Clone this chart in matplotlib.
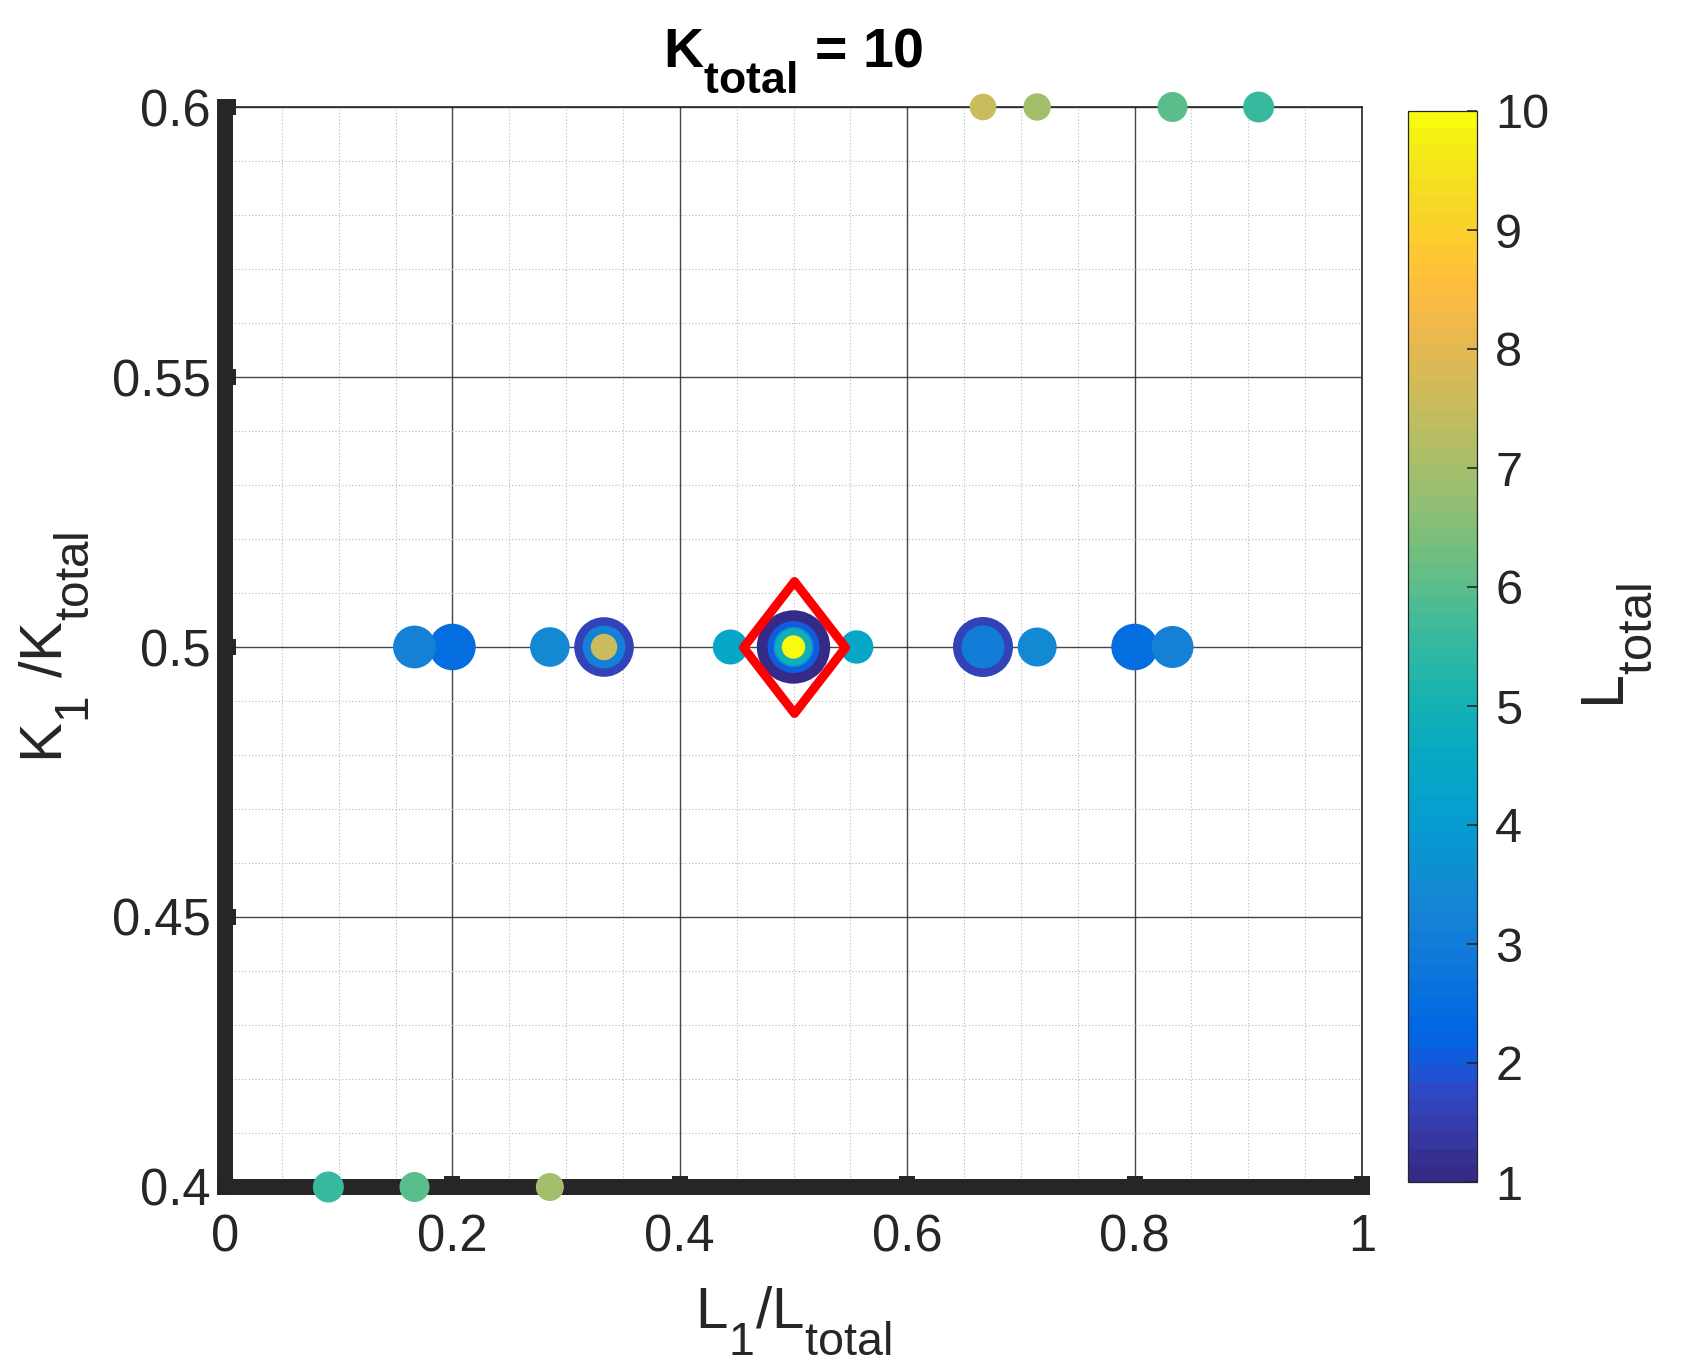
import numpy as np
import matplotlib
matplotlib.use('Agg')
import matplotlib.pyplot as plt
from matplotlib.colors import ListedColormap, Normalize
from matplotlib.markers import MarkerStyle
from matplotlib.path import Path

# deeper / larger subscripts, like MATLAB's TeX interpreter
try:
    import matplotlib._mathtext as _mt
    _mt.FontConstantsBase.sub1 = 0.9
    _mt.SHRINK_FACTOR = 0.8
except Exception:
    pass

plt.rcParams['font.family'] = ['Liberation Sans', 'DejaVu Sans']
plt.rcParams['mathtext.fontset'] = 'custom'
plt.rcParams['mathtext.rm'] = 'Liberation Sans'
plt.rcParams['mathtext.it'] = 'Liberation Sans:italic'
plt.rcParams['mathtext.bf'] = 'Liberation Sans:bold'
plt.rcParams['mathtext.default'] = 'regular'

# ---------------- data ----------------
k_total = 10
# L1/Ltotal
x_ratio = [1/6, 0.2, 2/7, 1/3, 1/3, 1/3, 4/9,
           0.5, 0.5, 0.5, 0.5, 0.5, 5/9,
           2/3, 2/3, 5/7, 0.8, 5/6,
           2/3, 5/7, 5/6, 10/11,
           1/11, 1/6, 2/7]
# K1/Ktotal
y_ratio = [0.5, 0.5, 0.5, 0.5, 0.5, 0.5, 0.5,
           0.5, 0.5, 0.5, 0.5, 0.5, 0.5,
           0.5, 0.5, 0.5, 0.5, 0.5,
           0.6, 0.6, 0.6, 0.6,
           0.4, 0.4, 0.4]
# colour value (L_total scale)
c_value = [3.18, 2.48, 3.46, 1.63, 3.18, 7.55, 4.44,
           1.0, 2.05, 3.8, 4.9, 10.0, 4.44,
           1.63, 3.1, 3.46, 2.48, 3.18,
           7.55, 6.98, 5.99, 5.57,
           5.57, 5.99, 6.98]
# marker area (pt^2)
marker_area = [949, 1126, 813, 1841, 949, 361, 635,
               2793, 1402, 829, 694, 284, 578,
               1866, 958, 788, 1126, 914,
               367, 389, 467, 498,
               498, 467, 406]
# highlighted optimum
opt_x = [0.5]
opt_y = [0.5]

x_ticks = [0, 0.2, 0.4, 0.6, 0.8, 1.0]
x_tick_labels = ['0', '0.2', '0.4', '0.6', '0.8', '1']
y_ticks = [0.4, 0.45, 0.5, 0.55, 0.6]
y_tick_labels = ['0.4', '0.45', '0.5', '0.55', '0.6']
cb_ticks = [1, 2, 3, 4, 5, 6, 7, 8, 9, 10]

# MATLAB parula (64)
parula_data = [
    [0.2081, 0.1663, 0.5292], [0.2116, 0.1898, 0.5777], [0.2123, 0.2138, 0.6270],
    [0.2081, 0.2386, 0.6771], [0.1959, 0.2645, 0.7279], [0.1707, 0.2919, 0.7792],
    [0.1253, 0.3242, 0.8303], [0.0591, 0.3598, 0.8683], [0.0117, 0.3875, 0.8820],
    [0.0060, 0.4086, 0.8828], [0.0165, 0.4266, 0.8786], [0.0329, 0.4430, 0.8720],
    [0.0498, 0.4586, 0.8641], [0.0629, 0.4737, 0.8554], [0.0723, 0.4887, 0.8467],
    [0.0779, 0.5040, 0.8384], [0.0793, 0.5200, 0.8312], [0.0749, 0.5375, 0.8263],
    [0.0641, 0.5570, 0.8240], [0.0488, 0.5772, 0.8228], [0.0343, 0.5966, 0.8199],
    [0.0265, 0.6137, 0.8135], [0.0239, 0.6287, 0.8038], [0.0231, 0.6418, 0.7913],
    [0.0228, 0.6535, 0.7768], [0.0267, 0.6642, 0.7607], [0.0384, 0.6743, 0.7436],
    [0.0590, 0.6838, 0.7254], [0.0843, 0.6928, 0.7062], [0.1133, 0.7015, 0.6859],
    [0.1453, 0.7098, 0.6646], [0.1801, 0.7177, 0.6424], [0.2178, 0.7250, 0.6193],
    [0.2586, 0.7317, 0.5954], [0.3022, 0.7376, 0.5712], [0.3482, 0.7424, 0.5473],
    [0.3953, 0.7459, 0.5244], [0.4420, 0.7481, 0.5033], [0.4871, 0.7491, 0.4840],
    [0.5300, 0.7491, 0.4661], [0.5709, 0.7485, 0.4494], [0.6099, 0.7473, 0.4337],
    [0.6473, 0.7456, 0.4188], [0.6834, 0.7435, 0.4044], [0.7184, 0.7411, 0.3905],
    [0.7525, 0.7384, 0.3768], [0.7858, 0.7356, 0.3633], [0.8185, 0.7327, 0.3498],
    [0.8507, 0.7299, 0.3360], [0.8824, 0.7274, 0.3217], [0.9139, 0.7258, 0.3063],
    [0.9450, 0.7261, 0.2886], [0.9739, 0.7314, 0.2666], [0.9938, 0.7455, 0.2403],
    [0.9990, 0.7653, 0.2164], [0.9955, 0.7861, 0.1967], [0.9880, 0.8066, 0.1794],
    [0.9789, 0.8271, 0.1633], [0.9697, 0.8481, 0.1475], [0.9626, 0.8705, 0.1309],
    [0.9589, 0.8949, 0.1132], [0.9598, 0.9218, 0.0948], [0.9661, 0.9514, 0.0755],
    [0.9763, 0.9831, 0.0538]]
parula = ListedColormap(parula_data, name='parula')

# ---------------- figure ----------------
W, H = 1686, 1370
fig = plt.figure(figsize=(W / 100, H / 100), dpi=100)
ax = fig.add_axes([225 / W, 183 / H, 1137 / W, 1080 / H])
cax = fig.add_axes([1408 / W, 188 / H, 69 / W, 1071 / H])

dark = '#262626'

xs = np.array(x_ratio)
ys = np.array(y_ratio)
cs = np.array(c_value)
ss = np.array(marker_area, dtype=float)
order = np.argsort(-ss, kind='stable')

sc = ax.scatter(xs[order], ys[order], s=ss[order], c=cs[order], cmap=parula,
                norm=Normalize(1, 10), linewidths=0, zorder=4, clip_on=False)

w = 0.773
diamond = Path([(0, 1), (w, 0), (0, -1), (-w, 0), (0, 1)], closed=True)
ax.plot(opt_x, opt_y, ls='none', marker=MarkerStyle(diamond, joinstyle='miter'),
        ms=95, mfc='none', mec='red', mew=6.5, zorder=5, clip_on=False)

ax.set_xlim(0, 1)
ax.set_ylim(0.4, 0.6)
ax.set_xticks(x_ticks)
ax.set_xticklabels(x_tick_labels)
ax.set_yticks(y_ticks)
ax.set_yticklabels(y_tick_labels)
ax.set_xticks(np.arange(0, 1.0001, 0.05), minor=True)
ax.set_yticks(np.arange(0.4, 0.60001, 0.01), minor=True)
ax.set_axisbelow(True)
ax.grid(True, which='major', color=dark, lw=1.0, alpha=0.85)
ax.grid(True, which='minor', color='#b8b8b8', lw=0.8, ls=(0, (1, 2)))
ax.tick_params(which='minor', length=0)
ax.tick_params(which='major', direction='in', length=8, width=11.5, color=dark,
               labelsize=36.5, labelcolor=dark, top=False, right=False)
ax.tick_params(axis='y', pad=10.5)
ax.tick_params(axis='x', pad=19)
for s in ['left', 'bottom']:
    ax.spines[s].set_linewidth(11.5)
    ax.spines[s].set_color(dark)
    ax.spines[s].set_capstyle('projecting')
for s in ['top', 'right']:
    ax.spines[s].set_linewidth(1.2)
    ax.spines[s].set_color(dark)

ax.set_title(r'$K_{total}$ = %d' % k_total, fontsize=40, fontweight='bold', pad=29)
ax.set_xlabel(r'$L_1/L_{total}$', fontsize=42, color=dark, labelpad=16)
ax.set_ylabel(r'$K_1\ /K_{total}$', fontsize=43, color=dark, labelpad=14)

cb = fig.colorbar(sc, cax=cax, ticks=cb_ticks)
cb.outline.set_linewidth(0.9)
cb.outline.set_edgecolor(dark)
cax.tick_params(direction='in', length=7, width=1.2, color=dark, labelsize=35,
                labelcolor=dark, pad=13, right=True, left=False)
cb.set_label(r'$L_{total}$', fontsize=44, color=dark, labelpad=22)

fig.savefig('out.png', dpi=100)
